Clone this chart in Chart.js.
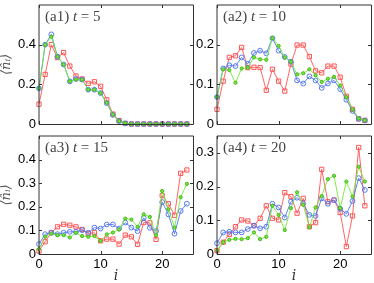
<!DOCTYPE html>
<html>
<head>
<meta charset="utf-8">
<script src="https://cdn.jsdelivr.net/npm/chart.js@4.4.1/dist/chart.umd.min.js"></script>
<style>
html, body { margin: 0; padding: 0; background: #fff; width: 374px; height: 283px; overflow: hidden; position: relative; }
canvas { position: absolute; }
</style>
</head>
<body>
<canvas id="p1" width="200" height="135" style="left:0px;top:0px"></canvas>
<canvas id="p2" width="200" height="135" style="left:178px;top:0px"></canvas>
<canvas id="p3" width="200" height="152" style="left:0px;top:131px"></canvas>
<canvas id="p4" width="200" height="152" style="left:178px;top:131px"></canvas>
<script>
// site index i
const sites = [0,1,2,3,4,5,6,7,8,9,10,11,12,13,14,15,16,17,18,19,20,21,22,23,24];
const xTicks = [0, 10, 20];

// t = 5
const red5   = [0.10,0.25,0.40,0.335,0.36,0.292,0.242,0.227,0.205,0.213,0.19,0.122,0.05,0.017,0.003,0,0,0,0,0,0,0,0,0,0];
const blue5  = [0.18,0.40,0.452,0.34,0.30,0.215,0.227,0.224,0.173,0.173,0.156,0.105,0.046,0.015,0.003,0,0,0,0,0,0,0,0,0,0];
const green5 = [0.18,0.40,0.44,0.34,0.30,0.215,0.224,0.224,0.173,0.173,0.156,0.107,0.048,0.015,0.003,0,0,0,0,0,0,0,0,0,0];

// t = 10
const red10   = [0.037,0.108,0.168,0.172,0.193,0.142,0.143,0.142,0.085,0.138,0.108,0.083,0.151,0.199,0.199,0.17,0.134,0.129,0.146,0.146,0.118,0.07,0.037,0.013,0.009];
const blue10  = [0.068,0.14,0.148,0.146,0.168,0.152,0.179,0.185,0.178,0.216,0.185,0.169,0.157,0.11,0.102,0.12,0.11,0.091,0.102,0.11,0.088,0.061,0.033,0.013,0.009];
const green10 = [0.068,0.138,0.136,0.104,0.14,0.142,0.168,0.163,0.162,0.217,0.197,0.168,0.157,0.125,0.128,0.138,0.123,0.106,0.114,0.119,0.097,0.068,0.037,0.014,0.009];

// t = 15
const red15   = [0.013,0.052,0.091,0.115,0.126,0.122,0.115,0.104,0.087,0.09,0.056,0.063,0.063,0.042,0.08,0.073,0.041,0.133,0.132,0.062,0.248,0.213,0.164,0.342,0.356];
const blue15  = [0.042,0.084,0.09,0.084,0.09,0.094,0.094,0.101,0.09,0.112,0.108,0.125,0.125,0.108,0.133,0.112,0.097,0.153,0.111,0.097,0.22,0.168,0.086,0.182,0.213];
const green15 = [0.021,0.073,0.087,0.08,0.08,0.07,0.09,0.076,0.073,0.076,0.055,0.083,0.091,0.104,0.15,0.146,0.115,0.168,0.157,0.08,0.267,0.19,0.112,0.241,0.297];

// t = 20
const red20   = [0.01,0.035,0.058,0.081,0.101,0.098,0.084,0.106,0.143,0.106,0.101,0.182,0.17,0.121,0.165,0.081,0.093,0.251,0.155,0.16,0.123,0.022,0.113,0.316,0.143];
const blue20  = [0.032,0.064,0.066,0.064,0.064,0.074,0.084,0.076,0.081,0.149,0.138,0.108,0.155,0.167,0.15,0.116,0.113,0.165,0.149,0.16,0.134,0.119,0.157,0.225,0.19];
const green20 = [0.01,0.035,0.042,0.045,0.044,0.047,0.064,0.044,0.051,0.143,0.116,0.071,0.136,0.183,0.146,0.079,0.138,0.172,0.222,0.232,0.136,0.215,0.17,0.259,0.215];

const RED = 'rgb(255,85,85)';
const BLUE = 'rgb(85,120,240)';
const GREEN = 'rgb(115,235,55)';

const tickFont = { family: '"Liberation Sans", Arial, sans-serif', size: 13 };

/* box round the axes, ticks pointing inward, panel label */
const framePlugin = {
	id: 'frame',
	afterDraw(chart, args, opts) {
		const { ctx, chartArea: a, scales } = chart;
		ctx.save();
		ctx.strokeStyle = '#333';
		ctx.lineWidth = 1;
		ctx.beginPath();
		ctx.moveTo(a.left, a.top);
		ctx.lineTo(a.right + 0.5, a.top);
		ctx.moveTo(a.right + 0.5, a.top);
		ctx.lineTo(a.right + 0.5, a.bottom + 0.5);
		ctx.lineTo(a.left, a.bottom + 0.5);
		ctx.moveTo(a.left, a.bottom + 0.5);
		ctx.lineTo(a.left, a.top);
		xTicks.forEach(v => {
			const px = Math.round(scales.x.getPixelForValue(v)) + 0.5;
			ctx.moveTo(px, a.bottom);
			ctx.lineTo(px, a.bottom - 3);
			ctx.moveTo(px, a.top);
			ctx.lineTo(px, a.top + 3);
		});
		opts.yTicks.forEach(v => {
			const py = Math.round(scales.y.getPixelForValue(v)) + 0.5;
			ctx.moveTo(a.left, py);
			ctx.lineTo(a.left + 3, py);
			ctx.moveTo(a.right, py);
			ctx.lineTo(a.right - 3, py);
		});
		ctx.stroke();

		// panel label, e.g. (a1) t = 5
		ctx.fillStyle = '#444';
		ctx.textBaseline = 'alphabetic';
		let x = a.left + 6;
		const y = a.top + 15.5;
		opts.label.forEach((part, k) => {
			ctx.font = (k === 1 ? 'italic ' : '') + '15px "Liberation Serif", "Times New Roman", serif';
			ctx.fillText(part, x, y);
			x += ctx.measureText(part).width;
		});
		ctx.restore();
	}
};

function series(values, color, style, radius, filled) {
	return {
		data: sites.map((s, k) => ({ x: s, y: values[k] })),
		borderColor: color,
		borderWidth: 0.9,
		pointStyle: style,
		pointRadius: radius,
		pointBorderColor: filled ? 'rgb(70,180,30)' : color,
		pointBorderWidth: 1,
		pointBackgroundColor: filled ? color : 'rgba(0,0,0,0)',
		tension: 0,
		clip: 8
	};
}

function makePanel(id, red, blue, green, yMax, yTicks, label, isLeft, isBottom) {
	return new Chart(document.getElementById(id), {
		type: 'line',
		data: {
			datasets: [
				series(green, GREEN, 'circle', 1.6, true),
				series(blue, BLUE, 'circle', 2.4, false),
				series(red, RED, 'rect', 3, false)
			]
		},
		options: {
			responsive: false,
			animation: false,
			events: [],
			devicePixelRatio: 1,
			layout: { padding: { left: 0, top: 5, right: 7, bottom: 0 } },
			plugins: {
				legend: { display: false },
				tooltip: { enabled: false },
				frame: { yTicks: yTicks, label: label }
			},
			scales: {
				x: {
					type: 'linear',
					min: 0,
					max: 25,
					grid: { display: false, drawTicks: false },
					border: { display: false },
					ticks: { display: isBottom, padding: 3, color: '#000', font: tickFont },
					afterBuildTicks: s => { s.ticks = xTicks.map(v => ({ value: v })); },
					afterFit: s => { s.height = isBottom ? 29 : 11; s.paddingLeft = 0; s.paddingRight = 0; },
					title: {
						display: isBottom,
						text: 'i',
						color: '#333',
						padding: 0,
						font: { family: '"DejaVu Serif", serif', style: 'italic', size: 14, lineHeight: 1 }
					}
				},
				y: {
					min: 0,
					max: yMax,
					grid: { display: false, drawTicks: false },
					border: { display: false },
					ticks: { padding: 3, color: '#000', font: tickFont, callback: v => String(v) },
					afterBuildTicks: s => { s.ticks = yTicks.map(v => ({ value: v })); },
					afterFit: s => { s.width = 39; s.paddingTop = 0; s.paddingBottom = 0; },
					title: {
						display: isLeft,
						text: '⟨n̂ᵢ⟩',
						color: '#555',
						padding: 0,
						font: { family: '"DejaVu Serif", serif', style: 'italic', size: 13, lineHeight: 1 }
					}
				}
			}
		},
		plugins: [framePlugin]
	});
}

makePanel('p1', red5, blue5, green5, 0.6, [0, 0.2, 0.4], ['(a1) ', 't', ' = 5'], true, false);
makePanel('p2', red10, blue10, green10, 0.3, [0, 0.1, 0.2], ['(a2) ', 't', ' = 10'], false, false);
makePanel('p3', red15, blue15, green15, 0.5, [0, 0.1, 0.2, 0.3, 0.4], ['(a3) ', 't', ' = 15'], true, true);
makePanel('p4', red20, blue20, green20, 0.35, [0, 0.1, 0.2, 0.3], ['(a4) ', 't', ' = 20'], false, true);
</script>
</body>
</html>
